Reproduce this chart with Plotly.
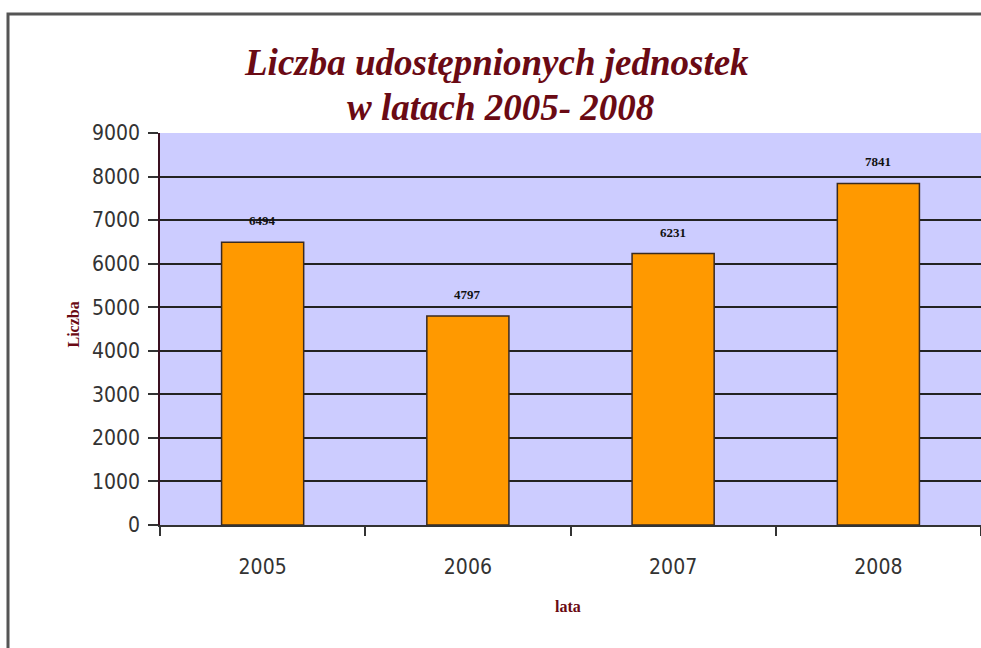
import plotly.graph_objects as go

# Number of units made available per year
years = ["2005", "2006", "2007", "2008"]
counts = [6494, 4797, 6231, 7841]
y_ticks = [0, 1000, 2000, 3000, 4000, 5000, 6000, 7000, 8000, 9000]

title_lines = ["Liczba udostępnionych jednostek", "w latach 2005- 2008"]
y_title = "Liczba"
x_title = "lata"

W, H = 981, 648
ML, MR, MT, MB = 160, 0, 133, 123
pw, ph = W - ML - MR, H - MT - MB

def px_x(p):
    return (p - ML) / pw

def px_y(p):
    return (H - MB - p) / ph

maroon = "#6a0a14"

fig = go.Figure()
fig.add_trace(go.Bar(
    x=years, y=counts, width=0.4,
    marker=dict(color="#ff9900", line=dict(color="#3a2a20", width=1.5)),
    hoverinfo="x+y",
))

annotations = []
# value labels above the bars (category axis positions are serial indices)
for i, v in enumerate(counts):
    annotations.append(dict(
        x=i, y=v, xref="x", yref="y", text=str(v), showarrow=False,
        yanchor="bottom", yshift=12,
        font=dict(family="Liberation Serif", size=13, color="#111111", weight="bold"),
    ))
annotations.append(dict(
    x=px_x(62), y=px_y(325), xref="paper", yref="paper", text=y_title,
    showarrow=False, textangle=-90,
    font=dict(family="Liberation Serif", size=16, color=maroon, weight="bold"),
))
annotations.append(dict(
    x=px_x(568), y=px_y(617), xref="paper", yref="paper", text=x_title,
    showarrow=False,
    font=dict(family="Liberation Serif", size=16, color=maroon, weight="bold"),
))
# two-line chart title
for line, cy, cx in zip(title_lines, (63, 107), (496, 500)):
    annotations.append(dict(
        x=px_x(cx), y=px_y(cy), xref="paper", yref="paper", text=line,
        showarrow=False, xanchor="center", yanchor="middle",
        font=dict(family="Liberation Serif", size=37, color=maroon,
                  weight="bold", style="italic"),
    ))

fig.update_layout(
    width=W, height=H,
    margin=dict(l=ML, r=MR, t=MT, b=MB),
    paper_bgcolor="white",
    plot_bgcolor="#ccccff",
    showlegend=False,
    annotations=annotations,
    shapes=[dict(
        type="rect", xref="paper", yref="paper",
        x0=px_x(8), x1=px_x(1000), y0=px_y(700), y1=px_y(14),
        line=dict(color="#555555", width=3), fillcolor="rgba(0,0,0,0)", layer="below",
    )],
    xaxis=dict(
        type="category",
        range=[-0.5, 3.5], showgrid=False, tickson="boundaries",
        ticks="outside", ticklen=9, tickcolor="#333333", tickwidth=1.5,
        showline=True, linecolor="#333333", linewidth=2,
        tickfont=dict(family="DejaVu Sans Condensed, DejaVu Sans", size=21, color="#333333"),
        ticklabelstandoff=22,
    ),
    yaxis=dict(
        range=[0, 9000], tickvals=y_ticks,
        showgrid=True, gridcolor="#222222", gridwidth=2,
        ticks="outside", ticklen=10, tickcolor="#333333", tickwidth=1.5,
        showline=True, linecolor="#3a1020", linewidth=1.5,
        tickfont=dict(family="DejaVu Sans Condensed, DejaVu Sans", size=21, color="#333333"),
        ticklabelstandoff=4,
        zeroline=False,
    ),
)

fig.write_html("out.html")
